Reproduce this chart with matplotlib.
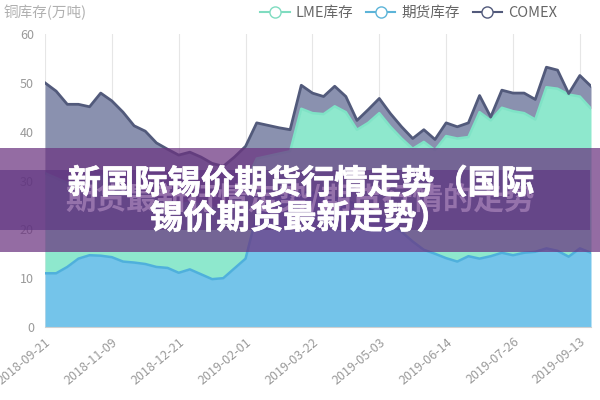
import matplotlib.pyplot as plt
import matplotlib.patheffects as pe
from matplotlib.lines import Line2D
from matplotlib.patches import Rectangle

plt.rcParams['font.family'] = ['Noto Sans CJK SC', 'DejaVu Sans']

# data (万吨), stacked: 期货库存 at bottom, LME on top of it, COMEX on top
tick_labels = ['2018-09-21', '2018-11-09', '2018-12-21', '2019-02-01', '2019-03-22',
               '2019-05-03', '2019-06-14', '2019-07-26', '2019-09-13']
futures = [11.0, 11.0, 12.3, 14.0, 14.7, 14.6, 14.3, 13.4, 13.2, 12.9,
           12.3, 12.1, 11.1, 11.8, 10.8, 9.8, 10.0, 12.0, 14.0, 23.0,
           25.5, 26.5, 27.0, 27.5, 27.5, 27.0, 26.5, 26.0, 25.0, 24.0,
           23.0, 21.0, 19.5, 17.5, 15.8, 15.0, 14.1, 13.4, 14.5, 14.0,
           14.5, 15.2, 14.7, 15.2, 15.4, 16.1, 15.6, 14.4, 16.1, 15.2]
lme_top = [31.5, 30.5, 29.5, 29.5, 29.0, 31.0, 30.5, 29.5, 28.0, 27.5,
           26.0, 25.5, 25.0, 25.5, 25.0, 24.5, 24.0, 26.5, 29.5, 34.5,
           35.0, 35.5, 36.0, 44.7, 43.8, 43.6, 45.2, 44.0, 40.4, 41.8,
           43.8, 41.0, 38.6, 36.5, 37.9, 36.2, 39.1, 38.6, 38.9, 44.0,
           42.3, 44.9, 44.2, 43.8, 42.5, 49.1, 48.8, 47.6, 47.2, 44.7]
comex_top = [50.0, 48.3, 45.6, 45.6, 45.1, 47.9, 46.3, 44.0, 41.2, 40.1,
             37.7, 36.4, 35.2, 35.8, 34.8, 33.5, 32.9, 34.8, 37.0, 41.8,
             41.3, 40.8, 40.4, 49.5, 47.9, 47.2, 49.3, 47.2, 42.3, 44.5,
             46.8, 43.7, 41.0, 38.6, 40.4, 38.4, 41.8, 41.0, 41.8, 47.4,
             43.0, 48.5, 47.9, 47.9, 46.6, 53.2, 52.6, 47.8, 51.5, 49.3]

x = list(range(len(futures)))

fig = plt.figure(figsize=(6, 4), dpi=100)
ax = fig.add_axes([0.075, 0.1825, 0.91, 0.7325])

ax.fill_between(x, lme_top, comex_top, color='#8a91af', lw=0, zorder=1)
ax.fill_between(x, futures, lme_top, color='#8ee8cd', lw=0, zorder=1)
ax.fill_between(x, 0, futures, color='#74c4ea', lw=0, zorder=1)
ax.plot(x, futures, color='#4fb0dc', lw=1.8, zorder=3)
ax.plot(x, lme_top, color='#7fe3c6', lw=1.8, zorder=3)
ax.plot(x, comex_top, color='#525a7b', lw=2, zorder=4)

ax.set_xlim(0, len(x) - 1)
ax.set_ylim(0, 60)
ax.set_yticks(range(0, 61, 10))
ax.set_xticks(range(0, len(x), 6))
ax.set_xticklabels(tick_labels, rotation=40, ha='right', rotation_mode='anchor')
ax.tick_params(axis='both', length=0, colors='#9a9a9a', labelsize=9)
ax.tick_params(axis='x', pad=6)
ax.tick_params(axis='y', pad=8)
ax.grid(axis='x', color='#e6e6e6', lw=0.8, zorder=0)
ax.set_axisbelow(True)
for s in ['top', 'right', 'left']:
    ax.spines[s].set_visible(False)
ax.spines['bottom'].set_color('#d0d0d0')

fig.text(0.006, 0.97, '铜库存(万吨)', color='#b0b0b0', fontsize=10.5, va='center')

handles = [
    Line2D([], [], color='#7fdcc0', marker='o', markersize=8, markerfacecolor='white', lw=1.5),
    Line2D([], [], color='#5cb4d8', marker='o', markersize=8, markerfacecolor='white', lw=1.5),
    Line2D([], [], color='#525a7b', marker='o', markersize=8, markerfacecolor='white', lw=1.5),
]
fig.legend(handles, ['LME库存', '期货库存', 'COMEX'], loc='center right',
           bbox_to_anchor=(0.95, 0.968), ncol=3, frameon=False, fontsize=10.5,
           labelcolor='#666666', handlelength=2.0, columnspacing=0.9, handletextpad=0.4)

# purple title banner
fig.add_artist(Rectangle((0, 1 - 252 / 400), 1, 104 / 400, transform=fig.transFigure,
                         color=(0.42, 0.2, 0.5), alpha=0.72, lw=0, zorder=10))
fig.add_artist(Rectangle((0, 1 - 230 / 400), 590 / 600, 60 / 400, transform=fig.transFigure,
                         color=(0.36, 0.2, 0.5), alpha=0.62, lw=0, zorder=11))
fig.text(0.5, 1 - 200 / 400, '期货最新行情走势/期货行情的走势', color='#a682b8', alpha=0.75,
         fontsize=22, fontweight='heavy', ha='center', va='center', zorder=12)
bold = [pe.withStroke(linewidth=0.5, foreground='white')]
fig.text(0.502, 1 - 184 / 400, '新国际锡价期货行情走势（国际', color='white',
         fontsize=24, fontweight='heavy', ha='center', va='center', zorder=13,
         path_effects=bold)
fig.text(0.5, 1 - 219 / 400, '锡价期货最新走势）', color='white',
         fontsize=24, fontweight='heavy', ha='center', va='center', zorder=13,
         path_effects=bold)

fig.savefig('out.png', dpi=100)
